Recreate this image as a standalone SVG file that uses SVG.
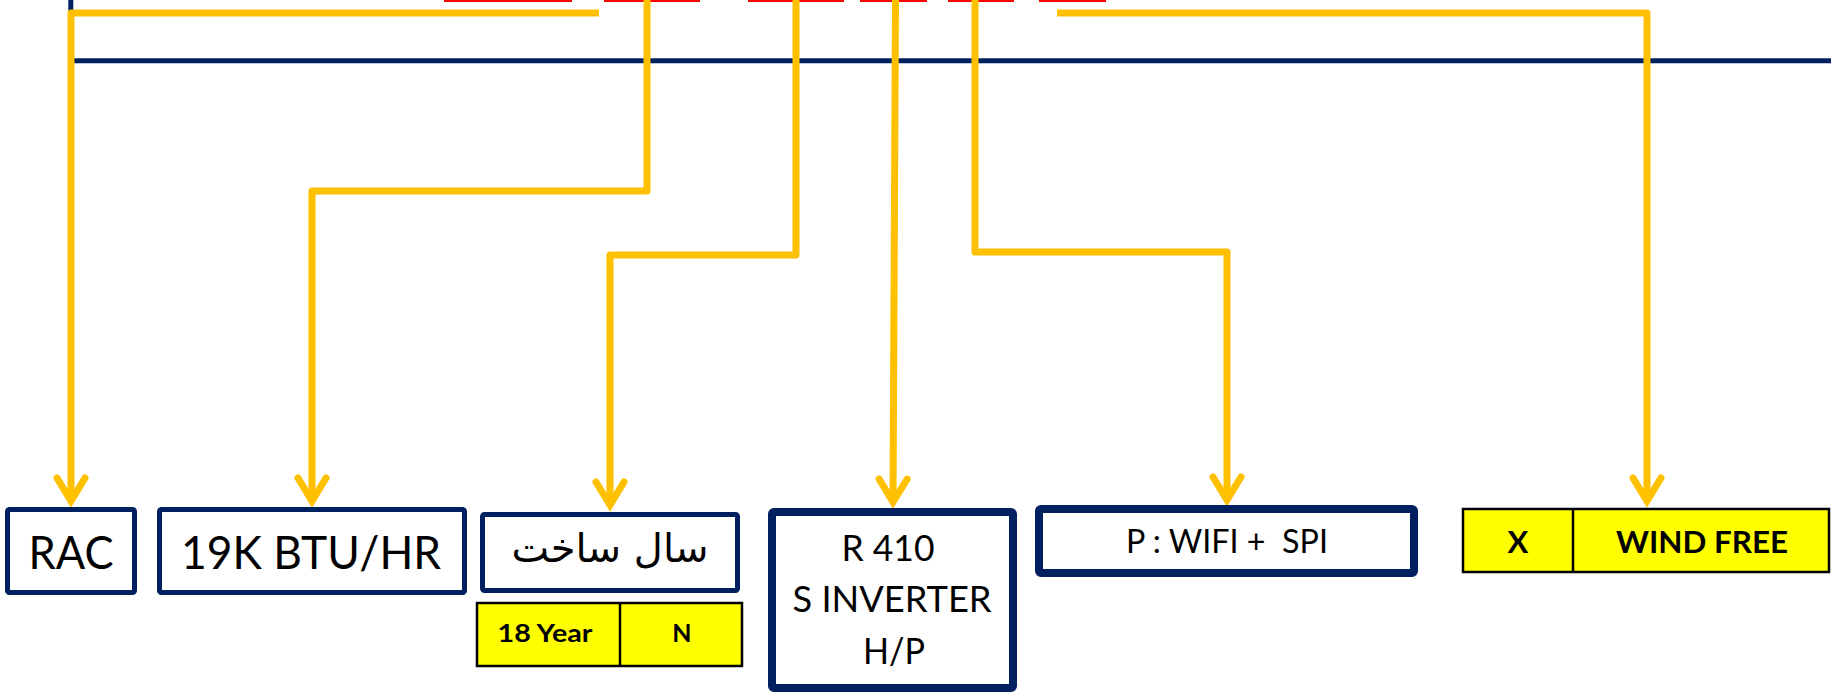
<svg xmlns="http://www.w3.org/2000/svg" width="1831" height="692" viewBox="0 0 1831 692">
<style>
.bg{fill:#ffffff}
.navy{fill:none;stroke:#002060}
.tbl{fill:#ffff00;stroke:#000000;stroke-width:2.5}
.div{stroke:#000000;stroke-width:2.5}
.red{fill:#ff0000}
.conn{fill:none;stroke:#ffc000;stroke-width:7;stroke-linejoin:round;marker-end:url(#arr)}
.t{font-family:Lato,"Liberation Sans",sans-serif;fill:#000000;text-anchor:middle}
.b{font-weight:bold}
.ar{font-family:"DejaVu Sans","Noto Sans",sans-serif;fill:#000000;text-anchor:middle}
</style>
<defs>
<marker id="arr" markerUnits="userSpaceOnUse" orient="auto" refX="0" refY="0" markerWidth="30" markerHeight="30" overflow="visible">
<path d="M-23,-14 L0,0 L-23,14" fill="none" stroke="#ffc000" stroke-width="7" stroke-linecap="round" stroke-linejoin="miter"/>
</marker>
</defs>
<rect class="bg" x="0" y="0" width="1831" height="692"/>
<g id="frame">
<line x1="70.8" y1="0" x2="70.8" y2="61" stroke="#002060" stroke-width="5"/>
<line x1="70" y1="60.8" x2="1831" y2="60.8" stroke="#002060" stroke-width="5"/>
<rect class="red" x="444" y="0" width="128" height="2"/>
<rect class="red" x="604" y="0" width="96" height="2"/>
<rect class="red" x="748" y="0" width="96" height="2"/>
<rect class="red" x="860" y="0" width="67" height="2"/>
<rect class="red" x="948" y="0" width="66" height="2"/>
<rect class="red" x="1039" y="0" width="67" height="2"/>
</g>
<g id="connectors">
<path class="conn" d="M599,13 L71,13 L71,501"/>
<path class="conn" d="M647,0 L647,191 L312,191 L312,501"/>
<path class="conn" d="M796,0 L796,255 L610,255 L610,505"/>
<path class="conn" d="M895.5,0 L893,502"/>
<path class="conn" d="M975,0 L975,252 L1227,252 L1227,500"/>
<path class="conn" d="M1057,13 L1647,13 L1647,501"/>
</g>
<g id="node-rac">
<rect class="navy" x="7.5" y="509.5" width="127" height="83" rx="2" stroke-width="5"/>
<text class="t" x="71" y="569" font-size="47" textLength="85" lengthAdjust="spacingAndGlyphs">RAC</text>
</g>
<g id="node-btu">
<rect class="navy" x="159.5" y="509.5" width="305" height="83" rx="2" stroke-width="5"/>
<text class="t" x="311" y="569" font-size="47" textLength="260" lengthAdjust="spacingAndGlyphs">19K BTU/HR</text>
</g>
<g id="node-year">
<rect class="navy" x="482.5" y="514.5" width="255" height="76" rx="2" stroke-width="5"/>
<text class="ar" x="610" y="562" font-size="40" direction="rtl">سال ساخت</text>
</g>
<g id="node-year-table">
<rect class="tbl" x="477" y="603" width="265" height="63"/>
<line class="div" x1="620" y1="603" x2="620" y2="666"/>
<text class="t b" x="545" y="642" font-size="25" textLength="95" lengthAdjust="spacingAndGlyphs">18 Year</text>
<text class="t b" x="682" y="642" font-size="25">N</text>
</g>
<g id="node-r410">
<rect class="navy" x="772" y="512" width="241" height="176" rx="2" stroke-width="8"/>
<text class="t" x="888" y="561" font-size="36" textLength="93" lengthAdjust="spacingAndGlyphs">R 410</text>
<text class="t" x="892" y="612" font-size="36" textLength="199" lengthAdjust="spacingAndGlyphs">S INVERTER</text>
<text class="t" x="894" y="664" font-size="36" textLength="62" lengthAdjust="spacingAndGlyphs">H/P</text>
</g>
<g id="node-wifi">
<rect class="navy" x="1039" y="509" width="375" height="64" rx="2" stroke-width="8"/>
<text class="t" x="1227" y="553" font-size="32" xml:space="preserve" textLength="202" lengthAdjust="spacingAndGlyphs">P : WIFI +  SPI</text>
</g>
<g id="node-windfree">
<rect class="tbl" x="1463" y="509" width="366" height="63"/>
<line class="div" x1="1573" y1="509" x2="1573" y2="572"/>
<text class="t b" x="1518" y="553" font-size="31">X</text>
<text class="t b" x="1702" y="553" font-size="31" textLength="172" lengthAdjust="spacingAndGlyphs">WIND FREE</text>
</g>
</svg>
